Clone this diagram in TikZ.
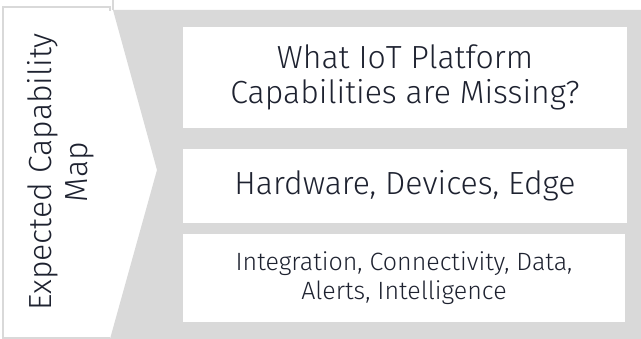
\documentclass[tikz,border=0pt]{standalone}
\usepackage{fontspec}
\setmainfont{Fira Sans Light}
\usepackage{tikz}

\definecolor{panelgray}{HTML}{D9D9D9}
\definecolor{textgray}{HTML}{1E2230}

\begin{document}
\begin{tikzpicture}[x=1pt,y=-1pt,
    capbox/.style={fill=white, inner sep=0pt, align=center, text=textgray, font=\fontsize{32}{35}\selectfont},
    maptext/.style={rotate=90, align=center, text=textgray, font=\fontsize{32}{36}\selectfont}]
    \useasboundingbox (0,0) rectangle (641,339);
    \fill[white] (0,0) rectangle (641,339);

    % left panel and its outline
    \draw[panelgray, line width=1.2pt] (110,11) -- (110,7) -- (3,7) -- (3,338) -- (110,338);
    \draw[panelgray, line width=1.2pt] (113,0) -- (113,10);

    % grey field with the chevron cut out
    \fill[panelgray] (113,10) -- (641,10) -- (641,339) -- (110,339) -- (157,170) -- cycle;

    % capability boxes
    \node[capbox, minimum width=444pt, minimum height=101pt] (missing) at (405,77.5)
        {What IoT Platform\\Capabilities are Missing?};
    \node[capbox, minimum width=444pt, minimum height=74pt] (hardware) at (405,186)
        {Hardware, Devices, Edge};
    \node[capbox, minimum width=442pt, minimum height=88pt, font=\fontsize{25}{29}\selectfont] (integration) at (404,278)
        {Integration, Connectivity, Data,\\Alerts, Intelligence};

    \node[maptext] (capmap) at (61,172) {Expected Capability\\Map};
\end{tikzpicture}
\end{document}
